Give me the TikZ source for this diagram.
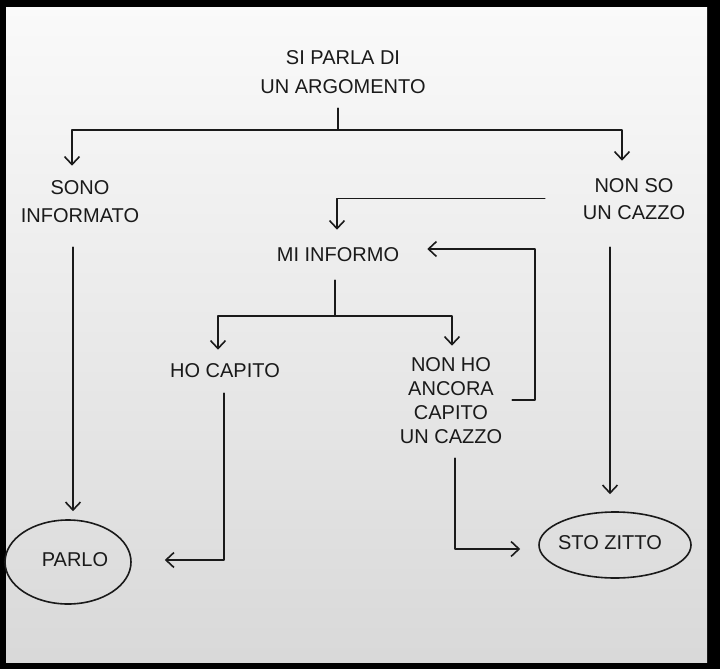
\documentclass[tikz,border=0pt]{standalone}
\usepackage{fontspec}
\setmainfont{Liberation Sans}
\usetikzlibrary{arrows.meta,shapes.geometric}
\definecolor{ink}{HTML}{1A1A1A}
\begin{document}
\begin{tikzpicture}[x=1pt,y=-1pt,
  lbl/.style={align=center, text=ink, inner sep=2pt, font=\fontsize{20}{28}\selectfont},
  oval/.style={ellipse, draw=ink, line width=1.6pt, inner sep=0pt, text=ink, font=\fontsize{20}{28}\selectfont},
  wire/.style={draw=ink, line width=1.8pt, line cap=round, line join=round},
  flow/.style={wire, -{Straight Barb[length=8pt,width=15pt,line width=1.6pt]}}
]
\useasboundingbox (0,0) rectangle (720,669);
\fill[black] (0,0) rectangle (720,669);
\shade[top color=white!98!black, bottom color=white!85!black] (6,8) rectangle (707,662);

% nodes
\node[lbl, font=\fontsize{20}{29}\selectfont] (title) at (343,72.5) {SI PARLA DI\\UN ARGOMENTO};
\node[lbl] (sono) at (80,202) {SONO\\INFORMATO};
\node[lbl, font=\fontsize{20}{27}\selectfont] (nonso) at (634,199.5) {NON SO\\UN CAZZO};
\node[lbl] (mi) at (338,255) {MI INFORMO};
\node[lbl] (capito) at (225,371) {HO CAPITO};
\node[lbl, font=\fontsize{20}{24}\selectfont] (nonho) at (451,401) {NON HO\\ANCORA\\CAPITO\\UN CAZZO};
\node[oval, minimum width=126pt, minimum height=84pt] (parlo) at (68,562) {};
\node[text=ink, font=\fontsize{20}{28}\selectfont] (parlotxt) at (75,560) {PARLO};
\node[oval, minimum width=152pt, minimum height=66pt] (zitto) at (615,545) {};
\node[text=ink, font=\fontsize{20}{28}\selectfont] (zittotxt) at (610,543) {STO ZITTO};

% junctions
\coordinate (j1) at (338,130);
\coordinate (j2) at (335,316);

% connectors
\draw[wire] ([xshift=-5pt,yshift=-12pt]title.south) -- (j1);
\draw[flow] (j1) -| ([xshift=-8pt,yshift=13pt]sono.north);
\draw[flow] (j1) -| ([xshift=-12pt,yshift=16pt]nonso.north);

\draw[flow] ([xshift=-36pt,yshift=1pt]nonso.west) -| ([xshift=-1pt,yshift=16pt]mi.north);

\draw[wire] ([xshift=-3pt,yshift=-16pt]mi.south) -- (j2);
\draw[flow] (j2) -| ([xshift=-7pt,yshift=12pt]capito.north);
\draw[flow] (j2) -| ([xshift=1pt,yshift=10pt]nonho.north);

\draw[flow] ([xshift=8pt,yshift=1pt]nonho.east) -- ++(23,0) |- ([xshift=26pt,yshift=6pt]mi.east);

\draw[flow] ([xshift=-7pt,yshift=-22pt]sono.south) -- ([xshift=5pt,yshift=8pt]parlo.north);
\draw[flow] ([xshift=-1pt,yshift=-13pt]capito.south) |- ([xshift=33pt,yshift=2pt]parlo.east);

\draw[flow] ([xshift=-24pt,yshift=-25pt]nonso.south) -- ([xshift=-5pt,yshift=17pt]zitto.north);
\draw[flow] ([xshift=4pt,yshift=-12pt]nonho.south) |- ([xshift=-18pt,yshift=-4pt]zitto.west);
\end{tikzpicture}
\end{document}
